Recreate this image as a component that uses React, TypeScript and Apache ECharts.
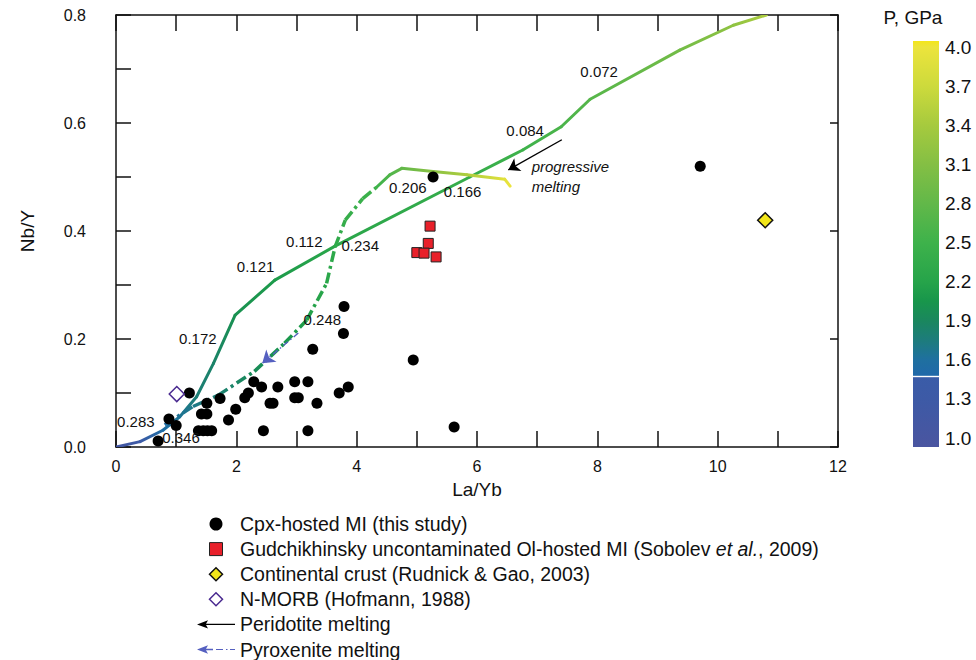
import React, { useEffect, useRef } from 'react';
import * as echarts from 'echarts';

const FONT = '"Liberation Sans", Arial, Helvetica, sans-serif';

// Cpx-hosted MI (this study)
const CPX_X = [0.70, 0.88, 1.00, 1.22, 1.37, 1.45, 1.52, 1.59, 1.42, 1.51, 1.51, 1.73, 1.87, 1.99, 2.14, 2.20, 2.29, 2.42, 2.45, 2.56, 2.61, 2.69, 2.97, 2.97, 3.03, 3.19, 3.19, 3.27, 3.34, 3.71, 3.78, 3.79, 3.86, 4.94, 5.27, 5.62, 9.71];
const CPX_Y = [0.011, 0.052, 0.040, 0.100, 0.030, 0.030, 0.030, 0.030, 0.061, 0.061, 0.081, 0.090, 0.050, 0.070, 0.091, 0.100, 0.121, 0.111, 0.030, 0.081, 0.081, 0.111, 0.121, 0.091, 0.091, 0.121, 0.030, 0.181, 0.081, 0.100, 0.210, 0.260, 0.111, 0.161, 0.500, 0.037, 0.520];

// Gudchikhinsky uncontaminated Ol-hosted MI
const GUD_X = [5.22, 5.19, 5.00, 5.12, 5.32];
const GUD_Y = [0.409, 0.377, 0.360, 0.359, 0.352];

// Continental crust and N-MORB
const CRUST_X = [10.79];
const CRUST_Y = [0.420];
const NMORB_X = [1.01];
const NMORB_Y = [0.098];

// Peridotite melting curve (x, y, pressure GPa)
const PERI_X = [0.00, 0.40, 0.78, 1.06, 1.34, 1.62, 1.98, 2.64, 3.64, 5.88, 6.76, 7.40, 7.88, 9.37, 10.26, 10.81];
const PERI_Y = [0.000, 0.010, 0.031, 0.056, 0.093, 0.155, 0.244, 0.309, 0.372, 0.500, 0.550, 0.593, 0.644, 0.735, 0.781, 0.800];
const PERI_P = [1.10, 1.30, 1.55, 1.65, 1.78, 1.85, 2.00, 2.10, 2.25, 2.40, 2.50, 2.60, 2.70, 2.95, 3.20, 3.45];

// Pyroxenite melting curve, dash-dot part
const PYXD_X = [0.81, 1.28, 1.70, 2.30, 2.80, 3.17, 3.50, 3.64, 3.81, 4.10, 4.33];
const PYXD_Y = [0.041, 0.075, 0.096, 0.140, 0.192, 0.235, 0.303, 0.370, 0.420, 0.460, 0.481];
const PYXD_P = [1.55, 1.70, 1.80, 1.95, 2.05, 2.15, 2.25, 2.30, 2.40, 2.45, 2.50];

// Pyroxenite melting curve, solid part
const PYXS_X = [4.33, 4.55, 4.75, 5.27, 5.83, 6.46, 6.55];
const PYXS_Y = [0.481, 0.504, 0.516, 0.510, 0.504, 0.496, 0.483];
const PYXS_P = [2.50, 2.65, 2.80, 3.15, 3.45, 3.90, 4.00];

// Melt-fraction labels along the curves
const CURVE_LABELS = ['0.283', '0.346', '0.172', '0.121', '0.112', '0.234', '0.248', '0.206', '0.166', '0.084', '0.072'];
const CURVE_LABEL_X = [0.33, 1.08, 1.36, 2.32, 3.13, 4.06, 3.43, 4.85, 5.76, 6.80, 8.03];
const CURVE_LABEL_Y = [0.048, 0.017, 0.201, 0.334, 0.380, 0.373, 0.236, 0.481, 0.474, 0.587, 0.696];

const NOTE_LABELS = ['progressive', 'melting'];
const NOTE_X = [6.90, 6.90];
const NOTE_Y = [0.519, 0.482];

// Arrows
const PERI_ARROW = [[7.41, 0.569], [6.52, 0.513]];
const PYX_ARROW = [[3.03, 0.211], [2.43, 0.155]];

// Colour bar
const CB_LABELS = ['1.0', '1.3', '1.6', '1.9', '2.2', '2.5', '2.8', '3.1', '3.4', '3.7', '4.0'];
const CMAP_P = [0.93, 1.30, 1.47, 1.47, 1.60, 1.75, 1.90, 2.05, 2.20, 2.50, 2.80, 3.10, 3.40, 3.70, 4.00, 4.05];
const CMAP_C = ['#4a55a0', '#3d5aa6', '#3a5ca8', '#2068aa', '#1f70a0', '#1d7c7c', '#1a875e', '#18964b', '#26a44a', '#3eb24b', '#62b849', '#84bf44', '#a6ca3e', '#cdda3c', '#ece43c', '#f4e619'];

const NAME_CPX = 'Cpx-hosted MI (this study)';
const NAME_GUD = 'Gudchikhinsky uncontaminated Ol-hosted MI (Sobolev et al., 2009)';
const NAME_CRUST = 'Continental crust (Rudnick & Gao, 2003)';
const NAME_NMORB = 'N-MORB (Hofmann, 1988)';
const NAME_PERI = 'Peridotite melting';
const NAME_PYX = 'Pyroxenite melting';

function hexToRgb(h: string) {
  const n = parseInt(h.slice(1), 16);
  return [(n >> 16) & 255, (n >> 8) & 255, n & 255];
}
function colorAt(p: number) {
  if (p <= CMAP_P[0]) return CMAP_C[0];
  for (let i = 0; i < CMAP_P.length - 1; i++) {
    const a = CMAP_P[i], b = CMAP_P[i + 1];
    if (b > a && p >= a && p <= b) {
      const t = (p - a) / (b - a);
      const ca = hexToRgb(CMAP_C[i]), cb = hexToRgb(CMAP_C[i + 1]);
      const c = ca.map((v, k) => Math.round(v + (cb[k] - v) * t));
      return `rgb(${c[0]},${c[1]},${c[2]})`;
    }
  }
  return CMAP_C[CMAP_C.length - 1];
}

function curveSeries(name: string, xs: number[], ys: number[], ps: number[], dash: number[] | null, width: number) {
  return {
    type: 'custom',
    name,
    clip: true,
    silent: true,
    z: 2,
    data: xs.map((x, i) => [x, ys[i], ps[i]]),
    encode: { x: 0, y: 1 },
    renderItem: (params: any, api: any) => {
      const i = params.dataIndex;
      if (i >= xs.length - 1) return { type: 'group', children: [] };
      const a = api.coord([xs[i], ys[i]]);
      const b = api.coord([xs[i + 1], ys[i + 1]]);
      return {
        type: 'line',
        shape: { x1: a[0], y1: a[1], x2: b[0], y2: b[1] },
        style: {
          stroke: new echarts.graphic.LinearGradient(a[0], a[1], b[0], b[1], [
            { offset: 0, color: colorAt(ps[i]) },
            { offset: 1, color: colorAt(ps[i + 1]) },
          ], true),
          lineWidth: width,
          lineDash: dash || undefined,
          lineCap: dash ? 'butt' : 'round',
          fill: null,
        },
      };
    },
  };
}

export default function App() {
  const ref = useRef<HTMLDivElement>(null);
  useEffect(() => {
    if (!ref.current) return;
    const chart = echarts.init(ref.current, undefined, { renderer: 'svg' });

    const P_TOP = 4.046, P_BOT = 0.931;
    const cbStops: any[] = [];
    for (let i = CMAP_P.length - 1; i >= 0; i--) {
      cbStops.push({ offset: Math.min(1, Math.max(0, (P_TOP - CMAP_P[i]) / (P_TOP - P_BOT))), color: CMAP_C[i] });
    }

    const axisLineStyle = { color: '#111', width: 1.5 };
    const option: any = {
      animation: false,
      backgroundColor: '#fff',
      textStyle: { fontFamily: FONT, color: '#111' },
      grid: [
        { left: 116, top: 15, width: 722, height: 432, containLabel: false },
        { left: 913, top: 47, width: 26, height: 391, containLabel: false },
      ],
      xAxis: [
        {
          type: 'value', gridIndex: 0, min: 0, max: 12, interval: 1, position: 'bottom',
          name: 'La/Yb', nameLocation: 'middle', nameGap: 33,
          nameTextStyle: { fontSize: 19, color: '#111', fontFamily: FONT },
          axisLine: { show: true, onZero: false, lineStyle: axisLineStyle },
          axisTick: { show: true, inside: true, length: 16, lineStyle: axisLineStyle },
          axisLabel: { fontSize: 16, color: '#111', margin: 11, fontFamily: FONT, formatter: (v: number) => (Math.round(v) % 2 === 0 ? String(Math.round(v)) : '') },
          splitLine: { show: false },
        },
        {
          type: 'value', gridIndex: 0, min: 0, max: 12, interval: 1, position: 'top',
          axisLine: { show: true, onZero: false, lineStyle: axisLineStyle },
          axisTick: { show: true, inside: true, length: 16, lineStyle: axisLineStyle },
          axisLabel: { show: false },
          splitLine: { show: false },
        },
        { type: 'value', gridIndex: 1, min: 0, max: 1, show: false },
      ],
      yAxis: [
        {
          type: 'value', gridIndex: 0, min: 0, max: 0.8, interval: 0.1, position: 'left',
          name: 'Nb/Y', nameLocation: 'middle', nameGap: 79, nameRotate: 90,
          nameTextStyle: { fontSize: 19, color: '#111', fontFamily: FONT },
          axisLine: { show: true, onZero: false, lineStyle: axisLineStyle },
          axisTick: { show: true, inside: true, length: 15, lineStyle: axisLineStyle },
          axisLabel: { fontSize: 16, color: '#111', margin: 30, fontFamily: FONT, formatter: (v: number) => (Math.round(v * 10) % 2 === 0 ? v.toFixed(1) : '') },
          splitLine: { show: false },
        },
        {
          type: 'value', gridIndex: 0, min: 0, max: 0.8, interval: 0.2, position: 'right',
          axisLine: { show: true, onZero: false, lineStyle: axisLineStyle },
          axisTick: { show: true, inside: true, length: 8, lineStyle: axisLineStyle },
          axisLabel: { show: false },
          splitLine: { show: false },
        },
        {
          type: 'value', gridIndex: 1, min: 0, max: 10, interval: 1, position: 'right',
          name: 'P, GPa', nameLocation: 'end', nameGap: 20,
          nameTextStyle: { fontSize: 19, color: '#111', fontFamily: FONT, align: 'center' },
          axisLine: { show: false },
          axisTick: { show: false },
          splitLine: { show: false },
          axisLabel: { fontSize: 19, color: '#111', margin: 6, fontFamily: FONT, formatter: (v: number) => CB_LABELS[Math.round(v)] },
        },
      ],
      graphic: [
        {
          type: 'rect', shape: { x: 913, y: 41, width: 26, height: 406 },
          style: { fill: new echarts.graphic.LinearGradient(0, 0, 0, 1, cbStops) }, silent: true,
        },
        { type: 'rect', shape: { x: 913, y: 375.8, width: 26, height: 1.4 }, style: { fill: '#ffffff' }, silent: true },
      ],
      legend: {
        orient: 'vertical', left: 197, top: 514, padding: 0, itemWidth: 38, itemHeight: 13, itemGap: 5.1,
        selectedMode: false,
        textStyle: {
          fontSize: 19.5, color: '#111', fontFamily: FONT, lineHeight: 20,
          rich: { it: { fontStyle: 'italic', fontSize: 19.5, color: '#111', fontFamily: FONT, lineHeight: 20 } },
        },
        formatter: (name: string) => (name === NAME_GUD ? 'Gudchikhinsky uncontaminated Ol-hosted MI (Sobolev {it|et al.}, 2009)' : name),
        data: [
          { name: NAME_CPX, icon: 'circle', itemStyle: { color: '#000', borderWidth: 0, opacity: 1 } },
          { name: NAME_GUD, icon: 'path://M0,0H10V10H0Z', itemStyle: { color: '#e8202a', borderColor: '#222', borderWidth: 1, opacity: 1 } },
          { name: NAME_CRUST, icon: 'path://M5,0L10,5L5,10L0,5Z', itemStyle: { color: '#f2e61a', borderColor: '#111', borderWidth: 1.5, opacity: 1 } },
          { name: NAME_NMORB, icon: 'path://M5,0L10,5L5,10L0,5Z', itemStyle: { color: '#fff', borderColor: '#4a2a90', borderWidth: 1.5, opacity: 1 } },
          { name: NAME_PERI, icon: 'path://M0,5L11,0.8L9,4.3H38V5.7H9L11,9.2Z', itemStyle: { color: '#000', borderWidth: 0, opacity: 1 } },
          { name: NAME_PYX, icon: 'path://M0,5L11,0.8L9,4.3H16V5.7H9L11,9.2Z M19,4.4H26V5.6H19Z M29,4.5H30.5V5.5H29Z M33,4.4H38V5.6H33Z', itemStyle: { color: '#5560c0', borderWidth: 0, opacity: 1 } },
        ],
      },
      series: [
        curveSeries('peridotite-curve', PERI_X, PERI_Y, PERI_P, null, 3),
        curveSeries('pyroxenite-curve-dash', PYXD_X, PYXD_Y, PYXD_P, [11, 4, 3, 4], 3.5),
        curveSeries('pyroxenite-curve-solid', PYXS_X, PYXS_Y, PYXS_P, null, 3),
        {
          type: 'lines', name: NAME_PERI, coordinateSystem: 'cartesian2d', xAxisIndex: 0, yAxisIndex: 0,
          symbol: ['none', 'arrow'], symbolSize: [0, 11], silent: true, z: 3,
          lineStyle: { color: '#000', width: 1.4, opacity: 1 },
          data: [{ coords: PERI_ARROW }],
        },
        {
          type: 'lines', name: NAME_PYX, coordinateSystem: 'cartesian2d', xAxisIndex: 0, yAxisIndex: 0,
          symbol: ['none', 'arrow'], symbolSize: [0, 12], silent: true, z: 3,
          lineStyle: { color: '#5560c0', width: 1.4, type: [6, 3, 1.5, 3], opacity: 1 },
          data: [{ coords: PYX_ARROW }],
        },
        {
          type: 'scatter', name: NAME_CPX, symbol: 'circle', symbolSize: 11, z: 4,
          itemStyle: { color: '#000', opacity: 1 },
          data: CPX_X.map((x, i) => [x, CPX_Y[i]]),
        },
        {
          type: 'scatter', name: NAME_GUD, symbol: 'rect', symbolSize: 10, z: 4,
          itemStyle: { color: '#e8202a', borderColor: '#222', borderWidth: 1, opacity: 1 },
          data: GUD_X.map((x, i) => [x, GUD_Y[i]]),
        },
        {
          type: 'scatter', name: NAME_CRUST, symbol: 'diamond', symbolSize: 15, z: 4,
          itemStyle: { color: '#f2e61a', borderColor: '#111', borderWidth: 1.5, opacity: 1 },
          data: CRUST_X.map((x, i) => [x, CRUST_Y[i]]),
        },
        {
          type: 'scatter', name: NAME_NMORB, symbol: 'diamond', symbolSize: 15, z: 4,
          itemStyle: { color: '#fff', borderColor: '#4a2a90', borderWidth: 1.5, opacity: 1 },
          data: NMORB_X.map((x, i) => [x, NMORB_Y[i]]),
        },
        {
          type: 'scatter', name: 'curve-labels', symbolSize: 1, silent: true, z: 5,
          itemStyle: { color: 'rgba(0,0,0,0)', opacity: 1 },
          label: { show: true, position: 'inside', formatter: '{b}', fontSize: 15, color: '#111', fontFamily: FONT },
          data: CURVE_LABELS.map((t, i) => ({ name: t, value: [CURVE_LABEL_X[i], CURVE_LABEL_Y[i]] })),
        },
        {
          type: 'scatter', name: 'note-labels', symbolSize: 1, silent: true, z: 5,
          itemStyle: { color: 'rgba(0,0,0,0)', opacity: 1 },
          label: { show: true, position: 'right', distance: 0, formatter: '{b}', fontSize: 15, fontStyle: 'italic', color: '#111', fontFamily: FONT },
          data: NOTE_LABELS.map((t, i) => ({ name: t, value: [NOTE_X[i], NOTE_Y[i]] })),
        },
      ],
    };
    chart.setOption(option);
    return () => chart.dispose();
  }, []);
  return <div ref={ref} style={{ position: 'fixed', left: 0, top: 0, width: 976, height: 660 }} />;
}
